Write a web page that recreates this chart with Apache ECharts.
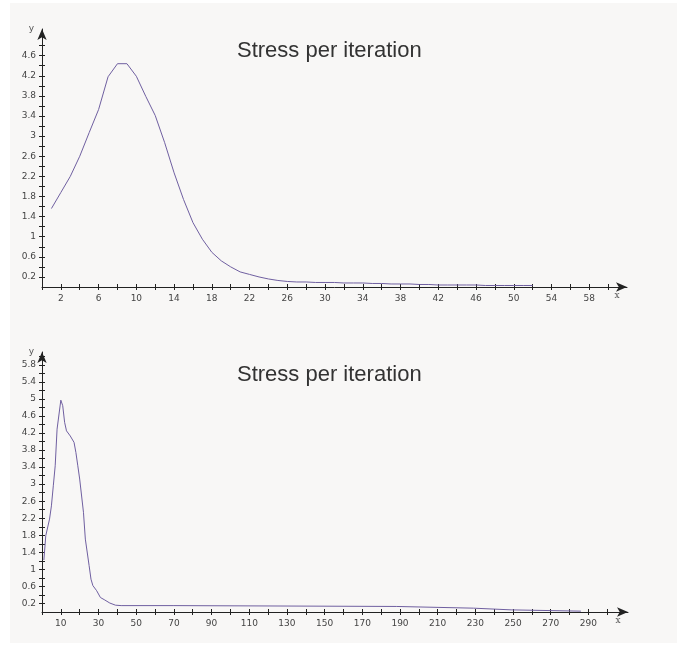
<!DOCTYPE html>
<html>
<head>
<meta charset="utf-8">
<script src="https://cdn.jsdelivr.net/npm/echarts@6/dist/echarts.min.js"></script>
<style>
  html, body { margin: 0; padding: 0; background: #ffffff; }
  #chart { position: absolute; left: 10px; top: 3px; width: 667px; height: 640px; }
</style>
</head>
<body>
<div id="chart"></div>
<script>
// top panel: stress per iteration, 52 iterations
var stressTop = [1.56, 1.88, 2.2, 2.6, 3.07, 3.53, 4.18, 4.44, 4.44, 4.19, 3.79, 3.41, 2.87, 2.27, 1.74,
  1.28, 0.95, 0.69, 0.52, 0.40, 0.30, 0.25, 0.20, 0.16, 0.13, 0.11, 0.10, 0.10, 0.09, 0.09,
  0.09, 0.08, 0.08, 0.08, 0.07, 0.07, 0.06, 0.06, 0.06, 0.05, 0.05, 0.04, 0.04, 0.04, 0.04,
  0.04, 0.03, 0.03, 0.03, 0.03, 0.03, 0.03]

// bottom panel: iteration / stress pairs
var iterBottom = [1, 2, 4, 5, 6, 7, 8, 10, 11, 12, 13, 15, 17, 18, 19, 20, 22, 23, 25, 26, 27, 29,
  31, 33, 36, 39, 42, 70, 71, 188, 189, 229, 230, 249, 250, 286]
var stressBottom = [1.22, 1.79, 2.18, 2.49, 2.96, 3.43, 4.29, 4.97, 4.84, 4.45, 4.25, 4.13, 3.98, 3.74,
  3.43, 3.12, 2.34, 1.71, 1.09, 0.77, 0.62, 0.50, 0.34, 0.29, 0.21, 0.16, 0.15, 0.15, 0.13, 0.13,
  0.09, 0.09, 0.05, 0.05, 0.02, 0.02]

// ticks and labels
var xTicksTop = [0, 2, 4, 6, 8, 10, 12, 14, 16, 18, 20, 22, 24, 26, 28, 30, 32, 34, 36, 38, 40, 42, 44, 46, 48, 50, 52, 54, 56, 58, 60]
var xLabelsTop = [2, 6, 10, 14, 18, 22, 26, 30, 34, 38, 42, 46, 50, 54, 58]
var yTicksTop = [0.2, 0.4, 0.6, 0.8, 1, 1.2, 1.4, 1.6, 1.8, 2, 2.2, 2.4, 2.6, 2.8, 3, 3.2, 3.4, 3.6, 3.8, 4, 4.2, 4.4, 4.6, 4.8]
var yLabelsTop = [0.2, 0.6, 1, 1.4, 1.8, 2.2, 2.6, 3, 3.4, 3.8, 4.2, 4.6]

var xTicksBottom = [0, 10, 20, 30, 40, 50, 60, 70, 80, 90, 100, 110, 120, 130, 140, 150, 160, 170, 180, 190,
  200, 210, 220, 230, 240, 250, 260, 270, 280, 290, 300]
var xLabelsBottom = [10, 30, 50, 70, 90, 110, 130, 150, 170, 190, 210, 230, 250, 270, 290]
var yTicksBottom = [0.2, 0.4, 0.6, 0.8, 1, 1.2, 1.4, 1.6, 1.8, 2, 2.2, 2.4, 2.6, 2.8, 3, 3.2, 3.4, 3.6, 3.8, 4,
  4.2, 4.4, 4.6, 4.8, 5, 5.2, 5.4, 5.6, 5.8, 6]
var yLabelsBottom = [0.2, 0.6, 1, 1.4, 1.8, 2.2, 2.6, 3, 3.4, 3.8, 4.2, 4.6, 5, 5.4, 5.8]

var titleText = 'Stress per iteration'
var axisColor = '#222'
var lineColor = '#6f5fa0'
var labelStyle = { color: '#444', fontFamily: 'DejaVu Sans', fontSize: 9 }
var titleStyle = { color: '#333', fontFamily: 'Liberation Sans', fontSize: 22, fontWeight: 'normal' }

// main axis (line, labels, outer half of ticks)
let mainX = (grid, max, ticks, labels) => ({
  type: 'value', gridIndex: grid, min: 0, max: max, position: 'bottom',
  name: 'x', nameLocation: 'end', nameGap: -10,
  nameTextStyle: { color: '#555', fontFamily: 'DejaVu Serif', fontSize: 9, align: 'center', verticalAlign: 'top', padding: [4, 0, 0, 0] },
  axisLine: { onZero: false, symbol: ['none', 'arrow'], symbolSize: [7, 11], lineStyle: { color: axisColor, width: 1 } },
  axisTick: { customValues: ticks, length: 3, lineStyle: { color: axisColor } },
  axisLabel: Object.assign({ customValues: labels, margin: 7 }, labelStyle),
  splitLine: { show: false }
})
let mainY = (grid, max, ticks, labels) => ({
  type: 'value', gridIndex: grid, min: 0, max: max, position: 'left',
  name: 'y', nameLocation: 'end', nameGap: 0,
  nameTextStyle: { color: '#555', fontFamily: 'DejaVu Sans', fontSize: 9, align: 'right', verticalAlign: 'middle', padding: [0, 8, 0, 0] },
  axisLine: { onZero: false, symbol: ['none', 'arrow'], symbolSize: [7, 11], lineStyle: { color: axisColor, width: 1 } },
  axisTick: { customValues: ticks, length: 3, lineStyle: { color: axisColor } },
  axisLabel: Object.assign({ customValues: labels, margin: 6, padding: [3, 0, 0, 0] }, labelStyle),
  splitLine: { show: false }
})
// twin axis only for the inner half of the ticks, so they cross the line
let twin = (type, grid, max, ticks) => ({
  type: 'value', gridIndex: grid, min: 0, max: max, position: type === 'x' ? 'bottom' : 'left',
  axisLine: { show: false, onZero: false },
  axisTick: { customValues: ticks, inside: true, length: 3, lineStyle: { color: axisColor } },
  axisLabel: { show: false },
  splitLine: { show: false }
})

var Chart = echarts.init(document.getElementById('chart'))
var option = {
  backgroundColor: '#f8f7f6',
  animation: false,
  title: [
    { text: titleText, left: 222, top: 32, textStyle: titleStyle },
    { text: titleText, left: 222, top: 356, textStyle: titleStyle }
  ],
  grid: [
    { left: 32, top: 26, width: 585, height: 258 },
    { left: 32, top: 349, width: 586, height: 260 }
  ],
  xAxis: [
    mainX(0, 62, xTicksTop, xLabelsTop),
    twin('x', 0, 62, xTicksTop),
    mainX(1, 311, xTicksBottom, xLabelsBottom),
    twin('x', 1, 311, xTicksBottom)
  ],
  yAxis: [
    mainY(0, 5.13, yTicksTop, yLabelsTop),
    twin('y', 0, 5.13, yTicksTop),
    mainY(1, 6.1, yTicksBottom, yLabelsBottom),
    twin('y', 1, 6.1, yTicksBottom)
  ],
  series: [
    {
      type: 'line', xAxisIndex: 0, yAxisIndex: 0, showSymbol: false,
      lineStyle: { color: lineColor, width: 1 },
      data: stressTop.map((v, i) => [i + 1, v])
    },
    {
      type: 'line', xAxisIndex: 2, yAxisIndex: 2, showSymbol: false,
      lineStyle: { color: lineColor, width: 1 },
      data: iterBottom.map((x, i) => [x, stressBottom[i]])
    }
  ]
}
Chart.setOption(option)
</script>
</body>
</html>
